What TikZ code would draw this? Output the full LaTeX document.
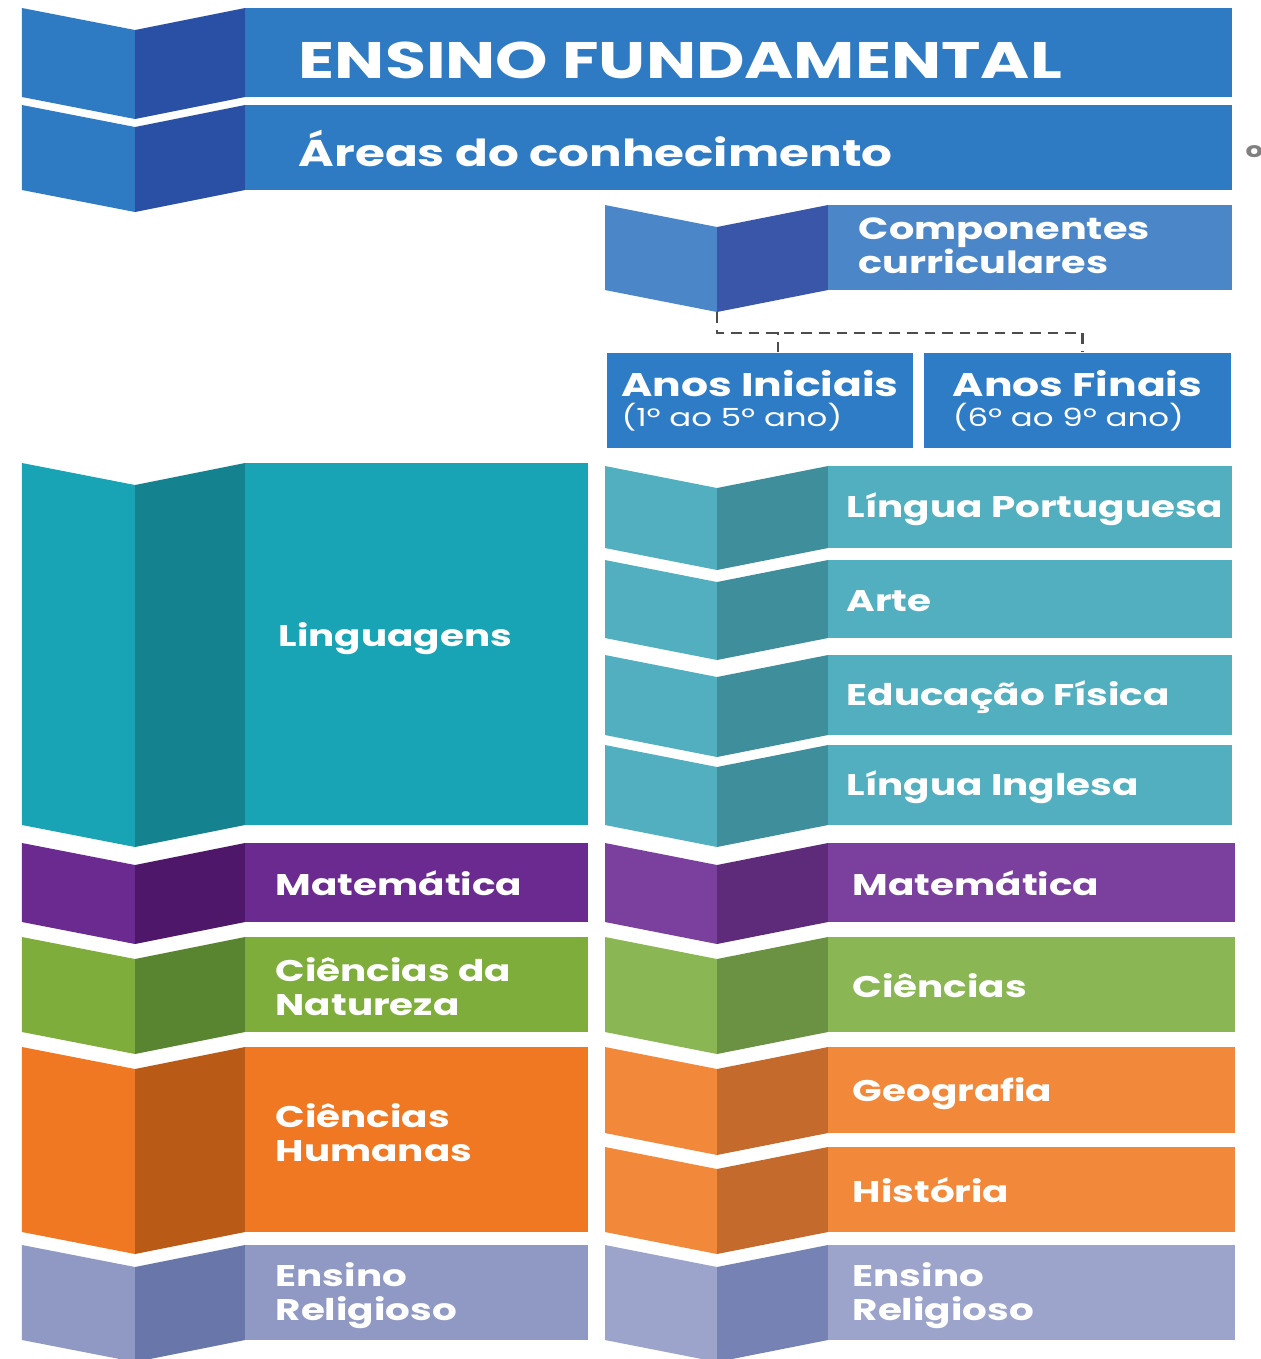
\documentclass[tikz,border=0pt]{standalone}
\usepackage{fontspec}
\setmainfont{Poppins}[FakeStretch=1.3]

\definecolor{hdblue}{HTML}{2E7BC4}
\definecolor{hddark}{HTML}{2A50A6}
\definecolor{cpblue}{HTML}{4A86C8}
\definecolor{cpdark}{HTML}{3A56A8}
\definecolor{yrblue}{HTML}{2F7CC6}
\definecolor{tealA}{HTML}{19A4B6}
\definecolor{tealAd}{HTML}{15838F}
\definecolor{tealB}{HTML}{52AFBF}
\definecolor{tealBd}{HTML}{3F8E9B}
\definecolor{purA}{HTML}{6A2A90}
\definecolor{purAd}{HTML}{4E176A}
\definecolor{purB}{HTML}{7B3F9E}
\definecolor{purBd}{HTML}{5E2B7A}
\definecolor{grnA}{HTML}{7FAD3C}
\definecolor{grnAd}{HTML}{5A8530}
\definecolor{grnB}{HTML}{8AB753}
\definecolor{grnBd}{HTML}{6B9242}
\definecolor{orgA}{HTML}{F07822}
\definecolor{orgAd}{HTML}{B95A17}
\definecolor{orgB}{HTML}{F2883A}
\definecolor{orgBd}{HTML}{C46A2C}
\definecolor{lavA}{HTML}{8F99C3}
\definecolor{lavAd}{HTML}{6876A9}
\definecolor{lavB}{HTML}{9CA4CC}
\definecolor{lavBd}{HTML}{7782B4}

% folded band: x-left, x-fold, x-rect, x-end, y-top, y-bottom, colour, dark colour
\newcommand{\fold}[8]{%
  \fill[#7] (#1,#5) -- (#2,#5+22) -- (#2,#6+22) -- (#1,#6) -- cycle;
  \fill[#8] (#2,#5+22) -- (#3,#5) -- (#3,#6) -- (#2,#6+22) -- cycle;
  \fill[#7] (#3,#5) rectangle (#4,#6);}

\begin{document}
\begin{tikzpicture}[x=0.01cm,y=-0.01cm,
    lab/.style={text=white,anchor=west,align=left,inner sep=0,
      font=\fontsize{8.5}{9.6}\selectfont\bfseries},
    yearbox/.style={fill=yrblue,text=white,align=left,inner sep=0,
      minimum width=3.06cm,minimum height=0.95cm},
    link/.style={dash pattern=on 3pt off 2pt,line width=0.6pt,gray!60!black}]
  \useasboundingbox (0,0) rectangle (1261,1359);

  % header
  \fold{22}{135}{245}{1232}{8}{97}{hdblue}{hddark}
  \fold{22}{135}{245}{1232}{105}{190}{hdblue}{hddark}
  \node[lab,font=\fontsize{14.6}{16}\selectfont\bfseries] (ensino) at (298,60) {ENSINO FUNDAMENTAL};
  \node[lab,font=\fontsize{10.6}{12}\selectfont\bfseries] (areas) at (298,148) {Áreas do conhecimento};
  \node[anchor=west,inner sep=0,text=gray,font=\fontsize{6}{7}\selectfont\bfseries] (cut) at (1245,152) {o};

  % componentes and years
  \fold{605}{717}{828}{1232}{205}{290}{cpblue}{cpdark}
  \coordinate (cc) at (717,312);
  \node[lab,font=\fontsize{8.7}{9.8}\selectfont\bfseries] (comp) at (858,246) {Componentes\\curriculares};
  \node[yearbox] (ini) at (760,400.5)
    {{\fontsize{9.3}{10}\selectfont\bfseries Anos Iniciais}\\[-3.5pt]{\fontsize{7.1}{8}\selectfont (1º ao 5º ano)}};
  \node[yearbox] (fin) at (1077.5,400.5)
    {{\fontsize{9.3}{10}\selectfont\bfseries Anos Finais}\\[-3.5pt]{\fontsize{7.1}{8}\selectfont (6º ao 9º ano)}};
  \draw[link] (cc) -- ++(0,21) -| ([xshift=0.05cm]fin.north);
  \draw[link] ([xshift=0.18cm]ini.north) -- ++(0,-20);

  % linguagens
  \fold{22}{135}{245}{588}{463}{825}{tealA}{tealAd}
  \node[lab] (ling) at (278,639) {Linguagens};
  \foreach \yt/\yb/\nm/\txt in {466/548/lp/{Língua Portuguesa},560/638/art/Arte,
      655/735/edf/{Educação Física},745/825/ing/{Língua Inglesa}}{
    \fold{605}{717}{828}{1232}{\yt}{\yb}{tealB}{tealBd}
    \node[lab] (\nm) at (846,{(\yt+\yb)/2+2}) {\txt};
  }

  % matematica
  \fold{22}{135}{245}{588}{843}{922}{purA}{purAd}
  \fold{605}{717}{828}{1235}{843}{922}{purB}{purBd}
  \node[lab] (matl) at (275,883) {Matemática};
  \node[lab] (matr) at (852,883) {Matemática};

  % ciencias
  \fold{22}{135}{245}{588}{937}{1032}{grnA}{grnAd}
  \fold{605}{717}{828}{1235}{937}{1032}{grnB}{grnBd}
  \node[lab] (natl) at (275,987) {Ciências da\\Natureza};
  \node[lab] (natr) at (852,986) {Ciências};

  % humanas
  \fold{22}{135}{245}{588}{1047}{1232}{orgA}{orgAd}
  \fold{605}{717}{828}{1235}{1047}{1133}{orgB}{orgBd}
  \fold{605}{717}{828}{1235}{1147}{1232}{orgB}{orgBd}
  \node[lab] (huml) at (275,1133) {Ciências\\Humanas};
  \node[lab] (geo) at (852,1094) {Geografia};
  \node[lab] (his) at (852,1190) {História};

  % religioso
  \fold{22}{135}{245}{588}{1245}{1340}{lavA}{lavAd}
  \fold{605}{717}{828}{1235}{1245}{1340}{lavB}{lavBd}
  \node[lab] (rell) at (275,1296) {Ensino\\Religioso};
  \node[lab] (relr) at (852,1296) {Ensino\\Religioso};
\end{tikzpicture}
\end{document}
